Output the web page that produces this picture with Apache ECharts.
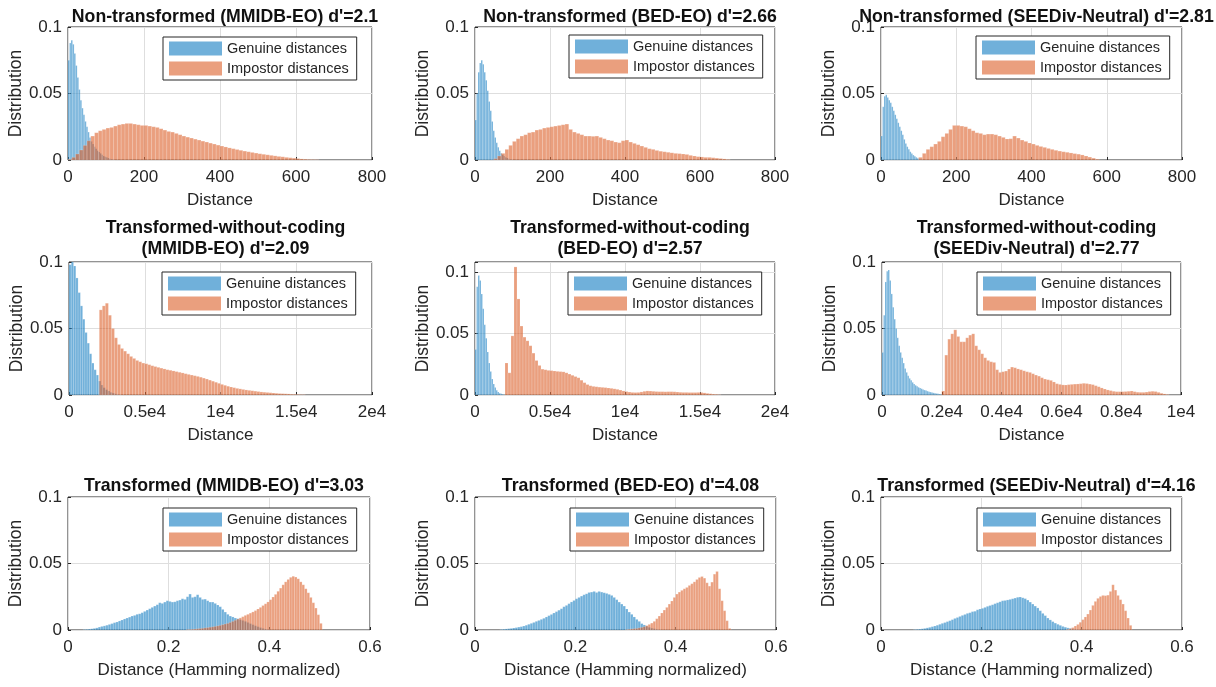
<!DOCTYPE html>
<html>
<head>
<meta charset="utf-8">
<script src="https://cdn.jsdelivr.net/npm/echarts@6/dist/echarts.min.js"></script>
<style>
html,body{margin:0;padding:0;background:#fff;}
#chart{width:1216px;height:687px;}
</style>
</head>
<body>
<div id="chart"></div>
<script>
// ---------------- DATA ----------------
const titles = [
  "Non-transformed (MMIDB-EO) d'=2.1",
  "Non-transformed (BED-EO) d'=2.66",
  "Non-transformed (SEEDiv-Neutral) d'=2.81",
  "Transformed-without-coding\n(MMIDB-EO) d'=2.09",
  "Transformed-without-coding\n(BED-EO) d'=2.57",
  "Transformed-without-coding\n(SEEDiv-Neutral) d'=2.77",
  "Transformed (MMIDB-EO) d'=3.03",
  "Transformed (BED-EO) d'=4.08",
  "Transformed (SEEDiv-Neutral) d'=4.16"
];
const seriesNames = ['Genuine distances', 'Impostor distances'];
const xAxisNames = ['Distance','Distance','Distance','Distance','Distance','Distance',
  'Distance (Hamming normalized)','Distance (Hamming normalized)','Distance (Hamming normalized)'];
const yAxisName = 'Distribution';

// tick values and labels
const xTicksRow1 = [0, 200, 400, 600, 800];
const xLabelsRow1 = ['0', '200', '400', '600', '800'];
const xTicksWide = [0, 5000, 10000, 15000, 20000];
const xLabelsWide = ['0', '0.5e4', '1e4', '1.5e4', '2e4'];
const xTicksSeed = [0, 2000, 4000, 6000, 8000, 10000];
const xLabelsSeed = ['0', '0.2e4', '0.4e4', '0.6e4', '0.8e4', '1e4'];
const xTicksHam = [0, 0.2, 0.4, 0.6];
const xLabelsHam = ['0', '0.2', '0.4', '0.6'];
const yTicks = [0, 0.05, 0.1];
const yLabels = ['0', '0.05', '0.1'];
const yMax = [0.1, 0.1, 0.1, 0.1, 0.108, 0.1, 0.1, 0.1, 0.1];

// histogram bins: first bin left edge and bin width
const genuineStart = [0, 0, 0, 0, 0, 0, 0.03, 0.05, 0.065];
const genuineWidth = [4, 4, 4, 150, 100, 50, 0.005, 0.005, 0.005];
const impostorStart = [0, 50, 100, 2000, 2000, 2000, 0.235, 0.3, 0.37];
const impostorWidth = [10, 10, 10, 200, 200, 100, 0.005, 0.005, 0.005];

const genuine1 = [0.075,0.088,0.09,0.087,0.08,0.071,0.062,0.053,0.045,0.039,0.034,0.029,0.025,0.021,0.017,0.014,0.012,0.01,0.0085,0.007,0.006,0.005,0.004,0.003,0.0025,0.002,0.0015,0.001,0.0007,0.0004,0.0002];
const impostor1 = [0.0005,0.002,0.0045,0.0075,0.011,0.0145,0.018,0.0205,0.022,0.023,0.024,0.0245,0.0255,0.0265,0.027,0.0275,0.0275,0.027,0.0265,0.026,0.026,0.0255,0.025,0.0245,0.0235,0.0225,0.0215,0.021,0.02,0.019,0.018,0.0172,0.0165,0.0157,0.015,0.0142,0.0135,0.0127,0.012,0.0112,0.0105,0.0098,0.0091,0.0085,0.0079,0.0073,0.0067,0.0062,0.0057,0.0052,0.0047,0.0043,0.0039,0.0035,0.0031,0.0027,0.0024,0.002,0.0017,0.0014,0.0011,0.0008,0.0006,0.0004,0.0003,0.0002];

const genuine2 = [0.03,0.05,0.066,0.073,0.075,0.072,0.066,0.06,0.052,0.044,0.037,0.029,0.022,0.017,0.013,0.0095,0.007,0.005,0.004,0.003,0.002,0.0015,0.001,0.0006,0.0003];
const impostor2 = [0.001,0.003,0.005,0.008,0.011,0.014,0.016,0.018,0.019,0.0205,0.021,0.0225,0.023,0.024,0.0245,0.025,0.0255,0.026,0.0265,0.027,0.023,0.021,0.02,0.019,0.018,0.018,0.0178,0.018,0.017,0.016,0.015,0.0145,0.0135,0.013,0.0145,0.015,0.0135,0.0125,0.0115,0.0105,0.0095,0.0085,0.008,0.0072,0.0066,0.0062,0.0058,0.0054,0.005,0.0048,0.0045,0.0042,0.0035,0.003,0.0025,0.0023,0.002,0.002,0.0017,0.0014,0.0011,0.0008,0.0004];

const genuine3 = [0.018,0.04,0.048,0.049,0.047,0.045,0.043,0.04,0.037,0.034,0.031,0.028,0.025,0.022,0.019,0.0155,0.0125,0.01,0.008,0.0062,0.0048,0.0037,0.0028,0.002,0.0013,0.0008,0.0004];
const impostor3 = [0.002,0.005,0.008,0.01,0.012,0.014,0.0175,0.02,0.023,0.026,0.026,0.0255,0.025,0.0235,0.022,0.0205,0.02,0.019,0.0195,0.0195,0.019,0.018,0.017,0.0158,0.016,0.018,0.0165,0.015,0.014,0.0128,0.012,0.011,0.0102,0.0095,0.0087,0.008,0.0073,0.0067,0.0062,0.0058,0.0053,0.0048,0.0044,0.0038,0.003,0.0022,0.0014,0.0006];

const genuine4 = [0.098,0.1,0.097,0.088,0.077,0.067,0.057,0.047,0.039,0.031,0.024,0.019,0.015,0.0105,0.0075,0.0055,0.004,0.003,0.002,0.0014,0.0009,0.0005,0.0002];
const impostor4 = [0.064,0.067,0.069,0.06,0.05,0.043,0.038,0.035,0.033,0.031,0.029,0.0275,0.026,0.025,0.024,0.0235,0.0228,0.022,0.0214,0.0208,0.0202,0.0196,0.019,0.0186,0.0181,0.0176,0.0171,0.0166,0.016,0.0155,0.015,0.0145,0.014,0.0134,0.0127,0.012,0.0112,0.0104,0.0096,0.0088,0.008,0.0073,0.0066,0.006,0.0055,0.005,0.0046,0.0042,0.0038,0.0035,0.0032,0.0029,0.0026,0.0023,0.0021,0.0019,0.0017,0.0015,0.0013,0.0011,0.001,0.0009,0.0008,0.0006,0.0005,0.0004,0.0003,0.0002];

const genuine5 = [0.037,0.088,0.097,0.093,0.082,0.07,0.057,0.046,0.035,0.026,0.019,0.013,0.009,0.006,0.0038,0.0025,0.0015,0.001,0.0006,0.0003];
const impostor5 = [0.026,0.018,0.048,0.104,0.078,0.056,0.047,0.044,0.04,0.034,0.028,0.024,0.021,0.0205,0.02,0.0198,0.0195,0.0192,0.019,0.0188,0.018,0.017,0.016,0.015,0.014,0.012,0.01,0.0085,0.0075,0.007,0.0067,0.0064,0.0062,0.006,0.0057,0.0054,0.005,0.0046,0.004,0.0033,0.0028,0.0024,0.0021,0.002,0.0021,0.0025,0.003,0.0033,0.0032,0.003,0.0028,0.0027,0.0027,0.0026,0.0027,0.0027,0.0026,0.0024,0.0022,0.0021,0.0021,0.002,0.002,0.002,0.0021,0.002,0.0017,0.0013,0.001,0.0007,0.0005,0.0002];

const genuine6 = [0.032,0.06,0.085,0.093,0.094,0.086,0.076,0.066,0.057,0.05,0.043,0.037,0.032,0.028,0.024,0.02,0.017,0.0145,0.0125,0.011,0.0095,0.0083,0.0073,0.0065,0.0058,0.0052,0.0047,0.0042,0.0037,0.0033,0.0029,0.0025,0.0022,0.0019,0.0016,0.0013,0.0011,0.0009,0.0007,0.0005];
const impostor6 = [0.003,0.03,0.042,0.046,0.049,0.044,0.04,0.04,0.043,0.045,0.046,0.037,0.034,0.031,0.028,0.026,0.025,0.0245,0.019,0.017,0.0175,0.018,0.0195,0.021,0.0205,0.0196,0.019,0.0182,0.0175,0.017,0.016,0.015,0.0142,0.013,0.012,0.0115,0.011,0.0098,0.0085,0.008,0.0076,0.0075,0.0078,0.008,0.0082,0.0083,0.0085,0.0088,0.0086,0.0082,0.0078,0.007,0.0062,0.0053,0.0045,0.0038,0.0033,0.0028,0.0025,0.0025,0.0025,0.0026,0.0028,0.003,0.0025,0.0021,0.002,0.002,0.0022,0.0026,0.0028,0.0026,0.002,0.0013,0.0008,0.0004];

const genuine7 = [0.0003,0.0005,0.0007,0.0009,0.0012,0.0016,0.0022,0.0027,0.0031,0.0036,0.0042,0.0048,0.0055,0.006,0.0068,0.0075,0.0083,0.009,0.0097,0.0105,0.011,0.0118,0.0122,0.013,0.014,0.015,0.016,0.017,0.018,0.019,0.0205,0.02,0.021,0.022,0.0215,0.021,0.0212,0.022,0.0225,0.0235,0.023,0.025,0.027,0.0245,0.025,0.0265,0.0245,0.023,0.0232,0.022,0.021,0.021,0.02,0.0188,0.0175,0.0155,0.0135,0.0118,0.0105,0.0098,0.009,0.0085,0.0078,0.0072,0.0065,0.0057,0.0048,0.004,0.0032,0.0025,0.0018,0.0012,0.0007,0.0003];
const impostor7 = [0.0003,0.0004,0.0005,0.0007,0.0009,0.0011,0.0013,0.0016,0.0018,0.0021,0.0024,0.0027,0.0031,0.0035,0.004,0.0045,0.005,0.0057,0.0065,0.0073,0.0082,0.0091,0.01,0.011,0.0118,0.0127,0.0136,0.0146,0.0158,0.017,0.0184,0.0197,0.0211,0.0228,0.0248,0.0268,0.0291,0.0315,0.034,0.0362,0.038,0.0396,0.0404,0.0398,0.0385,0.0362,0.034,0.031,0.028,0.0245,0.0205,0.0165,0.0115,0.005];

const genuine8 = [0.0004,0.0006,0.0008,0.001,0.0012,0.0015,0.0018,0.0022,0.0025,0.003,0.0036,0.0043,0.005,0.0057,0.0065,0.0072,0.008,0.0088,0.0098,0.0108,0.0117,0.0128,0.0138,0.0149,0.016,0.0175,0.0185,0.0198,0.0211,0.0222,0.0235,0.0245,0.0255,0.0265,0.0272,0.0282,0.0285,0.029,0.0282,0.029,0.0285,0.028,0.0275,0.0268,0.026,0.0245,0.0228,0.021,0.0195,0.018,0.0158,0.0135,0.0118,0.0098,0.008,0.0065,0.0048,0.0038,0.0028,0.002,0.0014,0.001,0.0006,0.0003];
const impostor8 = [0.0003,0.0005,0.0008,0.001,0.0012,0.0016,0.002,0.0025,0.0033,0.0042,0.0052,0.0065,0.0085,0.0105,0.0128,0.015,0.017,0.0195,0.0218,0.0245,0.027,0.0285,0.0298,0.031,0.032,0.0335,0.0348,0.0362,0.038,0.0395,0.0402,0.039,0.0355,0.033,0.036,0.042,0.044,0.031,0.022,0.0145,0.007,0.0012];

const genuine9 = [0.0003,0.0005,0.0007,0.0009,0.0012,0.0016,0.002,0.0025,0.003,0.0036,0.0043,0.005,0.0056,0.0063,0.007,0.0078,0.0087,0.0094,0.0102,0.011,0.0117,0.0125,0.013,0.0138,0.0141,0.0152,0.0158,0.0163,0.017,0.0178,0.0184,0.019,0.0198,0.0205,0.0212,0.022,0.0222,0.0226,0.023,0.0235,0.024,0.0246,0.0248,0.0242,0.0236,0.0225,0.021,0.0195,0.018,0.0166,0.0145,0.0125,0.0108,0.009,0.0076,0.0063,0.0052,0.0043,0.0035,0.0027,0.0021,0.0016,0.0012,0.0008,0.0005,0.0003];
const impostor9 = [0.0005,0.001,0.0018,0.003,0.0042,0.0058,0.0078,0.0098,0.012,0.015,0.0185,0.0215,0.0238,0.0252,0.026,0.0258,0.0262,0.029,0.034,0.03,0.026,0.0228,0.0195,0.0145,0.009,0.0035];

const genuineData = [genuine1, genuine2, genuine3, genuine4, genuine5, genuine6, genuine7, genuine8, genuine9];
const impostorData = [impostor1, impostor2, impostor3, impostor4, impostor5, impostor6, impostor7, impostor8, impostor9];
const xTickSets = [
  [xTicksRow1, xLabelsRow1], [xTicksRow1, xLabelsRow1], [xTicksRow1, xLabelsRow1],
  [xTicksWide, xLabelsWide], [xTicksWide, xLabelsWide], [xTicksSeed, xLabelsSeed],
  [xTicksHam, xLabelsHam], [xTicksHam, xLabelsHam], [xTicksHam, xLabelsHam]
];

// ---------------- LAYOUT ----------------
const gridRects = [
  [68, 27, 304, 133], [475, 27, 300, 133], [881, 27, 301, 133],
  [69, 262, 303, 133], [475, 262, 300, 133], [882, 262, 299, 133],
  [68, 497, 302, 133], [475, 497, 301, 133], [881, 497, 301, 133]
];
const titleTops = [2, 2, 2, 213, 213, 213, 471, 471, 471];
const legendPos = [
  [163, 37], [569, 35], [976, 36],
  [162, 272], [568, 272], [977, 272],
  [163, 508], [570, 508], [977, 508]
];

const FONT = "'Liberation Sans', Arial, Helvetica, sans-serif";
const TXT = '#262626';
const COLORS = ['rgba(0,114,189,0.56)', 'rgba(217,83,25,0.56)'];

function binsToRows(values, start, width) {
  return values.map((v, i) => [start + i * width, start + (i + 1) * width, v]);
}
function labelFor(ticks, labels) {
  return function (val) {
    for (let i = 0; i < ticks.length; i++) {
      if (Math.abs(val - ticks[i]) < 1e-9 * Math.max(1, Math.abs(ticks[i]))) return labels[i];
    }
    return '';
  };
}
function renderBin(params, api) {
  const p0 = api.coord([api.value(0), api.value(2)]);
  const p1 = api.coord([api.value(1), 0]);
  const cs = params.coordSys;
  const r = echarts.graphic.clipRectByRect(
    { x: p0[0], y: p0[1], width: p1[0] - p0[0], height: p1[1] - p0[1] },
    { x: cs.x, y: cs.y, width: cs.width, height: cs.height });
  if (!r) return null;
  return {
    type: 'rect', shape: r,
    style: { fill: api.visual('color'), stroke: 'rgba(255,255,255,0.35)', lineWidth: 0.5 }
  };
}

const option = {
  animation: false,
  backgroundColor: '#fff',
  textStyle: { fontFamily: FONT },
  title: [], grid: [], xAxis: [], yAxis: [], legend: [], series: []
};

for (let k = 0; k < 9; k++) {
  const g = gridRects[k];
  option.grid.push({
    left: g[0], top: g[1], width: g[2], height: g[3],
    show: true, borderColor: TXT, borderWidth: 1, backgroundColor: '#fff', containLabel: false
  });
  option.title.push({
    text: titles[k], left: g[0] + g[2] / 2, top: titleTops[k], textAlign: 'center',
    textStyle: { fontFamily: FONT, fontSize: 17.7, fontWeight: 'bold', color: '#111', lineHeight: 21 }
  });
  const ts = xTickSets[k];
  const xt = ts[0];
  option.xAxis.push({
    gridIndex: k, type: 'value', min: xt[0], max: xt[xt.length - 1], interval: xt[1] - xt[0],
    name: xAxisNames[k], nameLocation: 'middle', nameGap: 32,
    nameTextStyle: { fontFamily: FONT, fontSize: 17, color: TXT },
    axisLine: { show: false },
    axisTick: { show: true, inside: true, length: 3, lineStyle: { color: TXT } },
    axisLabel: { margin: 9, fontFamily: FONT, fontSize: 17, color: TXT, formatter: labelFor(xt, ts[1]),
      showMinLabel: true, showMaxLabel: true, hideOverlap: false },
    splitLine: { show: true, lineStyle: { color: '#dedede', width: 1 } }
  });
  option.yAxis.push({
    gridIndex: k, type: 'value', min: 0, max: yMax[k], interval: 0.05,
    name: yAxisName, nameLocation: 'middle', nameGap: 41, nameRotate: 90,
    nameTextStyle: { fontFamily: FONT, fontSize: 17.5, color: TXT },
    axisLine: { show: false },
    axisTick: { show: true, inside: true, length: 3, lineStyle: { color: TXT } },
    axisLabel: { margin: 6, fontFamily: FONT, fontSize: 17, color: TXT, formatter: labelFor(yTicks, yLabels),
      showMinLabel: true, showMaxLabel: true, hideOverlap: false },
    splitLine: { show: true, lineStyle: { color: '#dedede', width: 1 } }
  });
  option.legend.push({
    data: seriesNames, orient: 'vertical', left: legendPos[k][0], top: legendPos[k][1],
    icon: 'rect', itemWidth: 53, itemHeight: 14, itemGap: 5,
    padding: [4, 8, 4, 6], backgroundColor: '#fff', borderColor: TXT, borderWidth: 1,
    textStyle: { fontFamily: FONT, fontSize: 14.5, color: TXT }, selectedMode: false
  });
  const sets = [
    binsToRows(genuineData[k], genuineStart[k], genuineWidth[k]),
    binsToRows(impostorData[k], impostorStart[k], impostorWidth[k])
  ];
  for (let s = 0; s < 2; s++) {
    option.series.push({
      type: 'custom', name: seriesNames[s], xAxisIndex: k, yAxisIndex: k,
      itemStyle: { color: COLORS[s] }, renderItem: renderBin,
      encode: { x: [0, 1], y: 2 }, data: sets[s], silent: true, z: 2 + s
    });
  }
}

const chart = echarts.init(document.getElementById('chart'), null, { renderer: 'canvas' });
chart.setOption(option);
</script>
</body>
</html>
